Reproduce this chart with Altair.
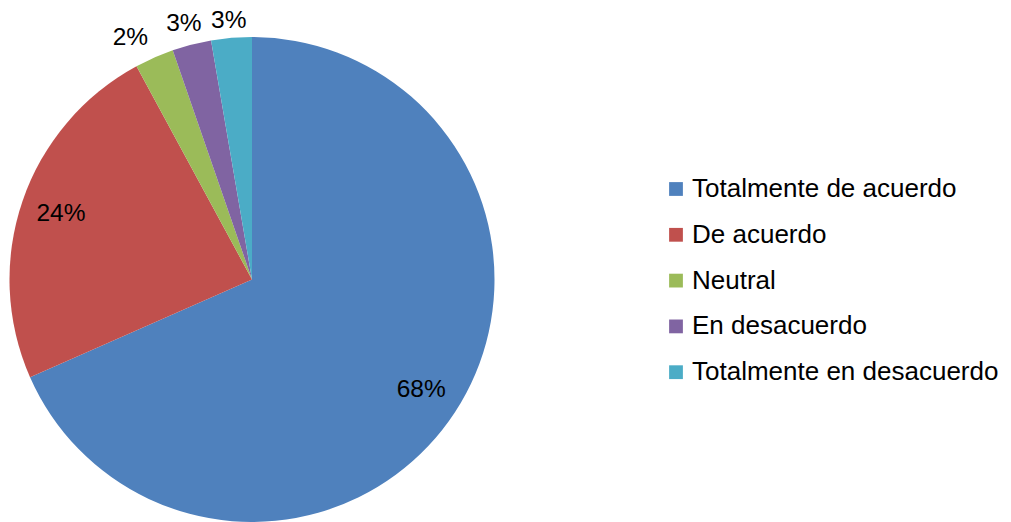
import altair as alt
import pandas as pd

categories = ["Totalmente de acuerdo", "De acuerdo", "Neutral", "En desacuerdo", "Totalmente en desacuerdo"]
values = [68.4, 23.7, 2.6, 2.6, 2.7]
labels = ["68%", "24%", "2%", "3%", "3%"]
colors = ["#4F81BD", "#C0504D", "#9BBB59", "#8064A2", "#4BACC6"]

df = pd.DataFrame({
    "cat": categories,
    "value": values,
    "label": labels,
    "idx": list(range(len(categories))),
})

CX, CY = 244, 271.5
FONT = "Liberation Sans"

base = alt.Chart(df).encode(
    theta=alt.Theta("value:Q", stack=True),
    order=alt.Order("idx:Q", sort="ascending"),
    x=alt.value(CX),
    y=alt.value(CY),
)

arcs = base.mark_arc(radius=242.5, stroke=None).encode(
    color=alt.Color(
        "cat:N",
        sort=categories,
        scale=alt.Scale(domain=categories, range=colors),
        legend=alt.Legend(
            title=None,
            orient="none",
            legendX=655,
            legendY=168,
            symbolType="square",
            symbolSize=190,
            symbolStrokeWidth=0,
            labelFont=FONT,
            labelFontSize=26,
            labelColor="#000000",
            labelOffset=3,
            rowPadding=19.8,
            padding=0,
            labelLimit=400,
        ),
    )
)

def text_layer(expr, radius, dx=0, dy=0):
    return base.transform_calculate(t=expr).mark_text(
        radius=radius, fontSize=24.5, font=FONT, color="#000000",
        align="center", baseline="middle", dx=dx, dy=dy,
    ).encode(text="t:N")

inside = text_layer("datum.idx < 2 ? datum.label : ''", 202)
outside_green = text_layer("datum.idx == 2 ? datum.label : ''", 262, dx=-16, dy=-2)
outside_purple = text_layer("datum.idx == 3 ? datum.label : ''", 262, dx=-3, dy=-2)
outside_teal = text_layer("datum.idx == 4 ? datum.label : ''", 262, dx=-1, dy=3)

chart = alt.layer(arcs, inside, outside_green, outside_purple, outside_teal).properties(
    width=995, height=514, padding=0, autosize=alt.AutoSizeParams(type="none")
).configure_view(stroke=None)

chart.save("out.html", embed_options={"renderer": "svg", "actions": False})
